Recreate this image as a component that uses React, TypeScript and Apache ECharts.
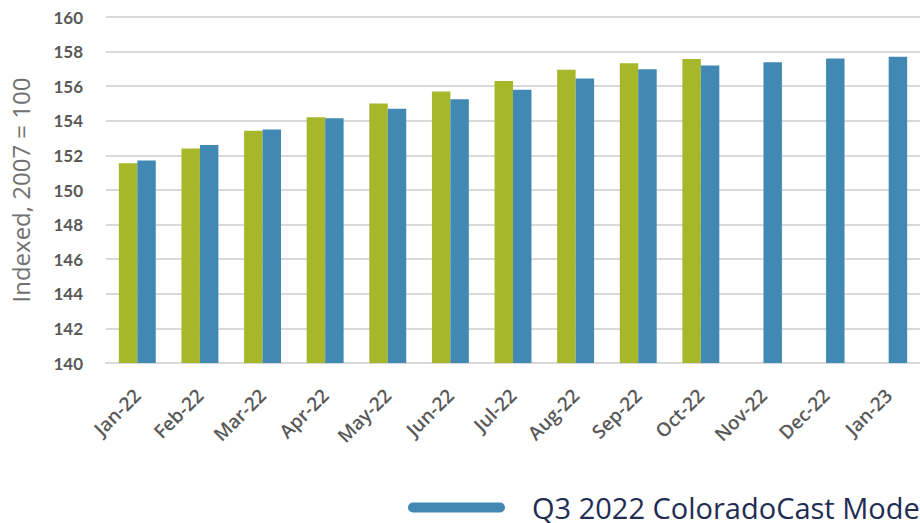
import React, { useEffect, useRef } from "react";
import * as echarts from "echarts";

const categories = ["Jan-22", "Feb-22", "Mar-22", "Apr-22", "May-22", "Jun-22", "Jul-22", "Aug-22", "Sep-22", "Oct-22", "Nov-22", "Dec-22", "Jan-23"];
const actualValues: (number | null)[] = [151.55, 152.4, 153.43, 154.2, 155.0, 155.7, 156.3, 156.95, 157.32, 157.57, null, null, null];
const modelValues: number[] = [151.7, 152.6, 153.5, 154.15, 154.7, 155.25, 155.8, 156.45, 156.98, 157.2, 157.38, 157.6, 157.7];
const actualName = "Actual";
const modelName = "Q3 2022 ColoradoCast Model";

export default function App() {
  const ref = useRef<HTMLDivElement>(null);
  useEffect(() => {
    if (!ref.current) return;
    const chart = echarts.init(ref.current, null, { renderer: "svg" });
    chart.setOption({
      animation: false,
      backgroundColor: "#ffffff",
      grid: { left: 105, right: 0, top: 17, bottom: 160, containLabel: false },
      legend: {
        data: [modelName],
        left: 408,
        top: 493,
        padding: 0,
        itemWidth: 97,
        itemHeight: 10,
        itemGap: 20,
        icon: "path://M5,0 H92 A5,5 0 0 1 92,10 H5 A5,5 0 0 1 5,0 Z",
        textStyle: { fontFamily: "Open Sans", fontSize: 29, color: "#1f2d52", padding: [0, 0, 0, 22] },
      },
      xAxis: {
        type: "category",
        data: categories,
        axisTick: { show: false },
        axisLine: { lineStyle: { color: "#d9d9d9", width: 2 } },
        axisLabel: {
          rotate: 45,
          fontFamily: "Open Sans",
          fontWeight: 600,
          fontSize: 19,
          color: "#595959",
          margin: 29,
          interval: 0,
        },
      },
      yAxis: {
        type: "value",
        min: 140,
        max: 160,
        interval: 2,
        name: "Indexed, 2007 = 100",
        nameLocation: "middle",
        nameGap: 74,
        nameTextStyle: { fontFamily: "Open Sans", fontSize: 24, color: "#707070" },
        axisLine: { show: false },
        axisTick: { show: false },
        splitLine: { lineStyle: { color: "#d9d9d9", width: 2 } },
        axisLabel: {
          fontFamily: "Lato",
          fontWeight: "bold",
          fontSize: 17,
          color: "#595959",
          margin: 23,
        },
      },
      series: [
        {
          name: actualName,
          type: "bar",
          data: actualValues,
          barGap: "0%",
          barCategoryGap: "41%",
          itemStyle: { color: "#a7b72a" },
        },
        {
          name: modelName,
          type: "bar",
          data: modelValues,
          barGap: "0%",
          barCategoryGap: "41%",
          itemStyle: { color: "#4189b3" },
        },
      ],
    });
    return () => chart.dispose();
  }, []);
  return (
    <div
      ref={ref}
      style={{ position: "absolute", left: 0, top: 0, width: 920, height: 523 }}
    />
  );
}
